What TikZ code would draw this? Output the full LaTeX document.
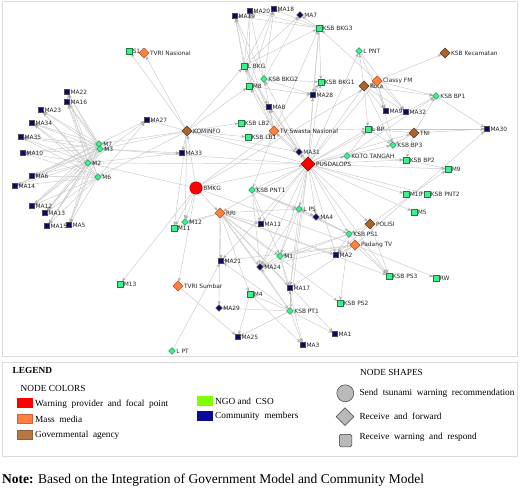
\documentclass[tikz,border=0pt]{standalone}
\usepackage{fontspec}
\setmainfont{Liberation Serif}
\newfontfamily\lblfont{DejaVu Sans}
\usetikzlibrary{shapes.geometric,arrows.meta}
\pgfdeclarelayer{bg}
\pgfsetlayers{bg,main}
\definecolor{cNavy}{HTML}{0A0A6E}
\definecolor{cGreen}{HTML}{3CF08C}
\definecolor{cGreenD}{HTML}{1E7A42}
\definecolor{cOrange}{HTML}{FF8040}
\definecolor{cOrangeD}{HTML}{B0501E}
\definecolor{cBrown}{HTML}{A8652F}
\definecolor{cBrownD}{HTML}{5C3A18}
\definecolor{cRed}{HTML}{FF0000}
\definecolor{cRedD}{HTML}{A00000}
\definecolor{lLime}{HTML}{80FF00}
\definecolor{lBlue}{HTML}{0A0A9A}
\definecolor{lBrown}{HTML}{B87840}
\newcommand\gn[4]{\node[#1] (#2) at (#3) {}; \node[lbl] (#2l) at (#2.east) {#4};}
\newcommand\E[2]{\foreach \t in {#2}{\draw[edge] (#1) -- (\t);}}
\begin{document}
\begin{tikzpicture}[x=1pt,y=-1pt,
  edge/.style={draw=gray!42, line width=0.45pt, -{Stealth[length=4pt,width=3pt,color=gray!65]}},
  lbl/.style={anchor=west, inner sep=0.8pt, font=\lblfont\fontsize{5.9}{7}\selectfont, text=black!85},
  mk/.style={inner sep=0pt, outer sep=0pt, line width=0.45pt},
  sqN/.style={mk, rectangle, minimum size=5pt, fill=cNavy, draw=black!70},
  sqG/.style={mk, rectangle, minimum size=5.5pt, fill=cGreen, draw=cGreenD},
  dmN/.style={mk, diamond, minimum size=6.5pt, fill=cNavy, draw=black!70},
  dmG/.style={mk, diamond, minimum size=6.8pt, fill=cGreen, draw=cGreenD},
  dmO/.style={mk, diamond, minimum size=10pt, fill=cOrange, draw=cOrangeD},
  dmB/.style={mk, diamond, minimum size=10pt, fill=cBrown, draw=cBrownD},
  dmR/.style={mk, diamond, minimum size=14pt, fill=cRed, draw=cRedD},
  ciR/.style={mk, circle, minimum size=12.5pt, fill=cRed, draw=cRedD},
  frame/.style={draw=gray!28, line width=1pt},
  lgd/.style={anchor=west, inner sep=0pt, font=\fontsize{9.3}{10}\selectfont},
  sw/.style={minimum width=15pt, minimum height=9pt, inner sep=0pt, line width=0.4pt}
]
\useasboundingbox (0,0) rectangle (520,489);
\draw[frame] (2,2) rectangle (517,357);

% ---- nodes
\gn{sqN}{MA19}{235,16}{MA19}
\gn{sqN}{MA20}{250,11}{MA20}
\gn{sqN}{MA18}{274,9}{MA18}
\gn{dmN}{MA7}{300,15}{MA7}
\gn{sqG}{KBKG3}{319,28}{KSB BKG3}
\gn{sqG}{S1}{129,51}{S1}
\gn{dmO}{TVRIN}{144,53}{TVRI Nasional}
\gn{dmG}{LPNT}{359,51}{L PNT}
\gn{dmB}{KKec}{445,53}{KSB Kecamatan}
\gn{sqG}{LBKG}{244,66}{L BKG}
\gn{dmG}{KBKG2}{264,79}{KSB BKG2}
\gn{sqG}{M8}{249,86}{M8}
\gn{sqG}{KBKG1}{321,82}{KSB BKG1}
\gn{sqN}{MA28}{313,95}{MA28}
\gn{sqN}{MA8}{269,107}{MA8}
\gn{dmB}{KOM}{187,131}{KOMINFO}
\gn{sqG}{KLB2}{241,123}{KSB LB2}
\gn{dmO}{TVS}{274,131}{TV Swasta Nasional}
\gn{sqG}{KLB1}{248,137}{KSB LB1}
\gn{sqN}{MA33}{182,153}{MA33}
\gn{sqN}{MA27}{147,120}{MA27}
\gn{dmN}{MA31}{299,152}{MA31}
\gn{dmR}{PUS}{308,164}{PUSDALOPS}
\gn{ciR}{BMKG}{196,188}{BMKG}
\gn{dmG}{KPNT1}{252,190}{KSB PNT1}
\gn{dmO}{RRI}{220,213}{RRI}
\gn{dmG}{M12}{185,222}{M12}
\gn{sqG}{M11}{174,228}{M11}
\gn{dmG}{LPS}{299,209}{L PS}
\gn{dmN}{MA4}{316,217}{MA4}
\gn{sqN}{MA11}{261,224}{MA11}
\gn{dmB}{KOTA}{364,86}{Kota}
\gn{dmO}{CFM}{377,81}{Classy FM}
\gn{dmG}{KBP1}{436,96}{KSB BP1}
\gn{sqN}{MA9}{386,111}{MA9}
\gn{sqN}{MA32}{406,112}{MA32}
\gn{sqG}{LBP}{368,129}{L BP}
\gn{dmB}{TNI}{414,133}{TNI}
\gn{sqN}{MA30}{487,129}{MA30}
\gn{dmG}{KBP3}{393,145}{KSB BP3}
\gn{dmG}{KOTO}{347,156}{KOTO TANGAH}
\gn{sqG}{KBP2}{406,160}{KSB BP2}
\gn{sqG}{M9}{448,169}{M9}
\gn{sqG}{M10}{406,194}{M10}
\gn{sqG}{KPNT2}{427,194}{KSB PNT2}
\gn{sqG}{M5}{414,212}{M5}
\gn{dmB}{POL}{370,224}{POLISI}
\gn{dmG}{KPS1}{349,234}{KSB PS1}
\gn{dmO}{PTV}{355,245}{Padang TV}
\gn{sqN}{MA2}{336,255}{MA2}
\gn{dmG}{M1}{280,256}{M1}
\gn{dmN}{MA24}{260,267}{MA24}
\gn{sqG}{KPS3}{389,276}{KSB PS3}
\gn{sqG}{RW}{436,278}{RW}
\gn{sqN}{MA17}{290,288}{MA17}
\gn{sqG}{KPS2}{340,303}{KSB PS2}
\gn{dmG}{KPT1}{290,311}{KSB PT1}
\gn{sqN}{MA1}{335,334}{MA1}
\gn{sqN}{MA3}{303,345}{MA3}
\gn{sqN}{MA21}{221,261}{MA21}
\gn{dmO}{TVRIS}{178,286}{TVRI Sumbar}
\gn{sqG}{M4}{250,294}{M4}
\gn{dmN}{MA29}{219,308}{MA29}
\gn{sqN}{MA25}{238,337}{MA25}
\gn{dmG}{LPT}{172,351}{L PT}
\gn{sqG}{M13}{120,284}{M13}
\gn{sqN}{MA22}{67,92}{MA22}
\gn{sqN}{MA16}{67,102}{MA16}
\gn{sqN}{MA23}{41,110}{MA23}
\gn{sqN}{MA34}{32,123}{MA34}
\gn{sqN}{MA35}{21,137}{MA35}
\gn{sqN}{MA10}{23,153}{MA10}
\gn{sqN}{MA6}{32,176}{MA6}
\gn{sqN}{MA14}{15,186}{MA14}
\gn{sqN}{MA12}{32,206}{MA12}
\gn{sqN}{MA13}{45,213}{MA13}
\gn{sqN}{MA15}{47,226}{MA15}
\gn{sqN}{MA5}{69,225}{MA5}
\gn{dmG}{M7}{99,144}{M7}
\gn{dmG}{M3}{100,149}{M3}
\gn{dmG}{M2}{88,163}{M2}
\gn{dmG}{M6}{98,177}{M6}

% ---- connectors
\begin{pgfonlayer}{bg}
\foreach \m in {M7,M3,M2,M6}{
  \E{\m}{MA22,MA16,MA23,MA34,MA35,MA10,MA6,MA14,MA12,MA13,MA15,MA5}}
\E{BMKG}{PUS,KOM,RRI,TVRIS,M12,M11,TVS,M13,PTV,CFM,M2}
\E{KOM}{S1,TVRIN,LBKG,M8,KLB2,KLB1,MA27,MA33,M7,M3,M6,M12,M11,MA31}
\E{M2}{MA27,MA33}
\E{M7}{MA27}
\E{M3}{MA33}
\E{M6}{MA27}
\E{PUS}{M3,M2}
\E{TVS}{LBKG,M8,KBKG2,KBKG3,MA8,KBKG1,LBP,MA19,KPNT1,MA31}
\E{PUS}{MA28,KBKG1,KBKG3,LPNT,MA8,KBKG2,M8,LBKG}
\E{LBKG}{MA19,MA20,MA18,MA7,KBKG3,MA8}
\E{KBKG2}{MA19,MA20,MA18,MA7,MA28,KBKG1}
\E{M8}{MA19,MA20,MA18,MA28}
\E{KBKG3}{MA7,MA18,MA20,MA19,KBKG1,MA28}
\E{CFM}{KBKG3,KBP1,MA9,MA32,KBP3}
\E{KBKG1}{MA28}
\E{KOTA}{MA9,MA32,KBP1,LBP,KBP3,KKec,LPNT}
\E{LPNT}{MA9,MA32}
\E{TNI}{MA30,KBP1,KBP3,KBP2,LBP}
\E{KBP1}{MA30}
\E{LBP}{MA30,KBP3}
\E{PUS}{TNI,LBP,KBP2,KBP3,KOTA,CFM,KBP1,M9,M10,KPNT2,M5,POL,KPS1,LPS,MA4,M1,MA24,MA21,KPNT1,RRI,MA11,MA17,KPT1,MA2,KPS3,KOM,TVS,MA31,KOTO}
\E{KOTO}{KBP2,LBP,KBP1}
\E{KBP2}{M9}
\E{POL}{M9,KPS1,KPS3,MA2}
\E{PTV}{KPS3,RW,MA2,M1,MA24,MA21,MA17,MA30}
\E{RRI}{MA21,MA24,M4,MA17,KPT1,M12,M11,MA11,M1,MA2,KPS2,MA29,LPS,KPS3,MA1}
\E{TVRIS}{MA25}
\E{LPT}{MA21}
\E{KPNT1}{LPS,MA11,M1,MA24,MA4,KPS1}
\E{LPS}{MA4,M1,MA24,MA17}
\E{KPS1}{MA4,LPS,MA2,M1,KPS2,MA24,KPS3}
\E{M1}{MA24,MA17,MA3}
\E{KPT1}{MA1,MA3,MA17,M4,MA29,MA25,MA24,MA21}
\E{M4}{MA25,MA3}
\end{pgfonlayer}

% ---- legend
\draw[frame] (2,362.5) rectangle (517,456);
\node[lgd, font=\bfseries\fontsize{9.3}{10}\selectfont] (legT) at (12.5,370) {LEGEND};
\node[lgd] (ncol) at (20.5,388.3) {NODE COLORS};
\node[sw, fill=cRed, draw=cRed] (swR) at (24.8,402.8) {};
\node[lgd] (txR) at (35,404) {Warning\ \ provider\ \ and\ \ focal\ \ point};
\node[sw, fill=cOrange, draw=cOrange!80!black] (swO) at (24.8,418.3) {};
\node[lgd] (txO) at (35,419.5) {Mass\ \ media};
\node[sw, fill=lBrown, draw=lBrown!80!black] (swB) at (24.8,434.5) {};
\node[lgd] (txB) at (35,435.5) {Governmental\ \ agency};
\node[sw, fill=lLime, draw=lLime] (swL) at (204.5,400.8) {};
\node[lgd] (txL) at (215,401.5) {NGO and\ \ CSO};
\node[sw, fill=lBlue, draw=lBlue] (swN) at (204.5,415.8) {};
\node[lgd] (txN) at (215,416) {Community\ \ members};
\node[lgd, anchor=center] (nsh) at (391.5,372.5) {NODE SHAPES};
\node[circle, minimum size=17pt, inner sep=0pt, fill=gray!55, draw=gray!50!black, line width=0.5pt] (shC) at (345.3,393.3) {};
\node[lgd] (txC) at (359.3,393.3) {Send\ \ tsunami\ \ warning\ \ recommendation};
\node[diamond, minimum size=18pt, inner sep=0pt, fill=gray!55, draw=gray!50!black, line width=0.5pt] (shD) at (345,416.7) {};
\node[lgd] (txD) at (359.3,416.7) {Receive\ \ and\ \ forward};
\node[rectangle, rounded corners=1.5pt, minimum size=12.5pt, inner sep=0pt, fill=gray!55, draw=gray!50!black, line width=0.5pt] (shS) at (345.5,440.5) {};
\node[lgd] (txS) at (359.3,437.3) {Receive\ \ warning\ \ and\ \ respond};
\node[anchor=west, inner sep=0pt, font=\fontsize{13.5}{15}\selectfont] (note) at (2,480) {\textbf{Note:} Based on the Integration of Government Model and Community Model};
\end{tikzpicture}
\end{document}
